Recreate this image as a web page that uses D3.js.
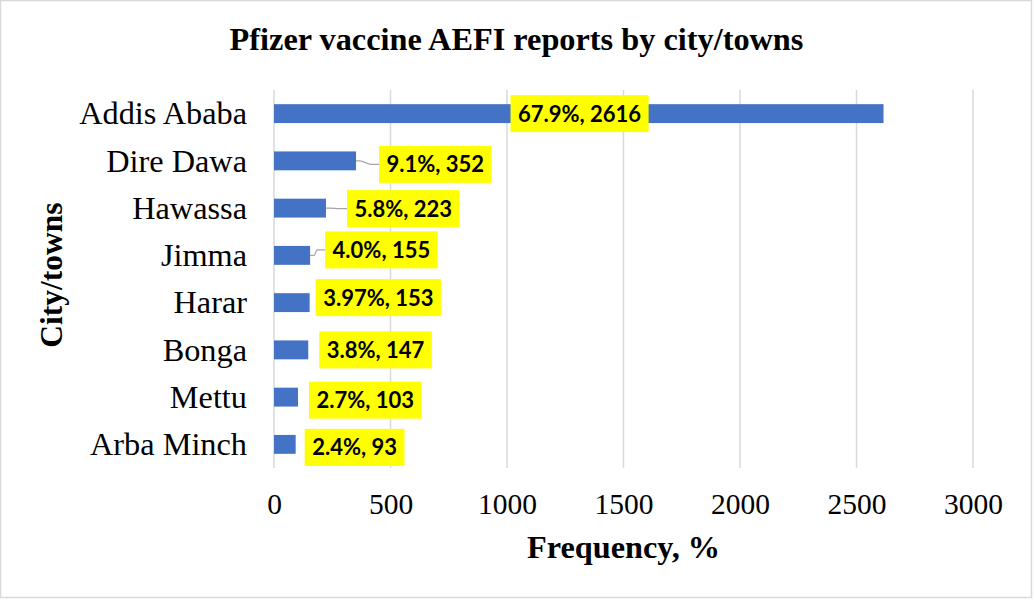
<!DOCTYPE html>
<html>
<head>
<meta charset="utf-8">
<script src="https://cdn.jsdelivr.net/npm/d3@7"></script>
<style>
  body { margin: 0; background: #fff; }
  svg { display: block; }
  .lbl text { font-family: Lato, "Open Sans", sans-serif; font-weight: bold; }
</style>
</head>
<body>
<div id="viz"></div>
<script>
// data
var cities = ["Addis Ababa", "Dire Dawa", "Hawassa", "Jimma", "Harar", "Bonga", "Mettu", "Arba Minch"];
var counts = [2616, 352, 223, 155, 153, 147, 103, 93];
var percents = ["67.9%", "9.1%", "5.8%", "4.0%", "3.97%", "3.8%", "2.7%", "2.4%"];
var xTicks = [0, 500, 1000, 1500, 2000, 2500, 3000];

// where excel dropped each label box (left edge relative to bar end, vertical shift)
var labelDx = [-373, 23, 21, 15, 6, 11, 11, 9];
var labelDy = [0, 3.5, 0.5, -5.5, -5, 0, 3, 3];
var leader = [false, true, true, true, false, false, false, false];

var W = 1034, H = 600;
var margin = {top: 90, left: 274, right: 61, bottom: 132};
var serif = "'Liberation Serif', 'Times New Roman', serif";

var svg = d3.select("#viz").append("svg")
    .attr("width", W)
    .attr("height", H);

// chart border
svg.append("rect")
    .attr("x", 0.5).attr("y", 0.5)
    .attr("width", W - 3).attr("height", H - 3)
    .attr("fill", "#fff")
    .attr("stroke", "#d9d9d9")
    .attr("stroke-width", 1.5);

var x = d3.scaleLinear().domain([0, 3000]).range([margin.left, W - margin.right]);
var y = d3.scaleBand().domain(cities).range([margin.top, H - margin.bottom])
    .paddingInner(0.6).paddingOuter(0.3);

// gridlines
svg.append("g").selectAll("line")
    .data(xTicks)
  .enter().append("line")
    .attr("x1", function(d) { return x(d); })
    .attr("x2", function(d) { return x(d); })
    .attr("y1", margin.top)
    .attr("y2", H - margin.bottom)
    .attr("stroke", "#d9d9d9")
    .attr("stroke-width", 1.5);

// x axis labels
var xAxis = svg.append("g")
    .attr("transform", "translate(0," + (H - margin.bottom) + ")")
    .call(d3.axisBottom(x).tickValues(xTicks).tickSize(0).tickPadding(25).tickFormat(d3.format("d")));
xAxis.select(".domain").remove();
xAxis.selectAll("text")
    .style("font-family", serif)
    .style("font-size", "29.5px")
    .attr("fill", "#000");

// y axis labels
var yAxis = svg.append("g")
    .attr("transform", "translate(" + margin.left + ",0)")
    .call(d3.axisLeft(y).tickSize(0).tickPadding(27));
yAxis.select(".domain").remove();
yAxis.selectAll("text")
    .style("font-family", serif)
    .style("font-size", "32.3px")
    .attr("dy", "0.33em")
    .attr("fill", "#000");

// bars
svg.append("g").selectAll("rect")
    .data(counts)
  .enter().append("rect")
    .attr("x", x(0))
    .attr("y", function(d, i) { return y(cities[i]); })
    .attr("width", function(d) { return x(d) - x(0); })
    .attr("height", y.bandwidth())
    .attr("fill", "#4472c4");

// leader lines
var line = d3.line().curve(d3.curveMonotoneX);
svg.append("g").selectAll("path")
    .data(d3.range(counts.length).filter(function(i) { return leader[i]; }))
  .enter().append("path")
    .attr("d", function(i) {
      var x0 = x(counts[i]), y0 = y(cities[i]) + y.bandwidth() / 2;
      var x1 = x0 + labelDx[i], y1 = y0 + labelDy[i];
      return line([[x0, y0], [x0 + 4, y0], [x1 - 8, y1], [x1, y1]]);
    })
    .attr("fill", "none")
    .attr("stroke", "#a6a6a6")
    .attr("stroke-width", 1.3);

// data labels
var lbl = svg.append("g").attr("class", "lbl").selectAll("g")
    .data(counts)
  .enter().append("g")
    .attr("transform", function(d, i) {
      return "translate(" + (x(d) + labelDx[i]) + "," + (y(cities[i]) + y.bandwidth() / 2 + labelDy[i]) + ")";
    });

lbl.append("rect").attr("fill", "#ffff00");
lbl.append("text")
    .attr("dy", "0.36em")
    .style("font-size", "22px")
    .attr("fill", "#000")
    .text(function(d, i) { return percents[i] + ", " + d; });

lbl.each(function() {
  var g = d3.select(this);
  var tw = g.select("text").node().getComputedTextLength();
  var pad = 7.5;
  g.select("rect")
    .attr("x", 0).attr("y", -18.5)
    .attr("width", tw + 2 * pad).attr("height", 37);
  g.select("text").attr("x", pad);
});

// titles
svg.append("text")
    .attr("x", 516.5).attr("y", 50)
    .attr("text-anchor", "middle")
    .style("font-family", serif)
    .style("font-weight", "bold")
    .style("font-size", "32.3px")
    .text("Pfizer vaccine AEFI reports by city/towns");

svg.append("text")
    .attr("x", (x(0) + x(3000)) / 2).attr("y", 558)
    .attr("text-anchor", "middle")
    .style("font-family", serif)
    .style("font-weight", "bold")
    .style("font-size", "32.3px")
    .text("Frequency, %");

svg.append("text")
    .attr("transform", "translate(62," + (margin.top + (H - margin.bottom - margin.top) / 2 - 4) + ") rotate(-90)")
    .attr("text-anchor", "middle")
    .style("font-family", serif)
    .style("font-weight", "bold")
    .style("font-size", "31.5px")
    .text("City/towns");
</script>
</body>
</html>
